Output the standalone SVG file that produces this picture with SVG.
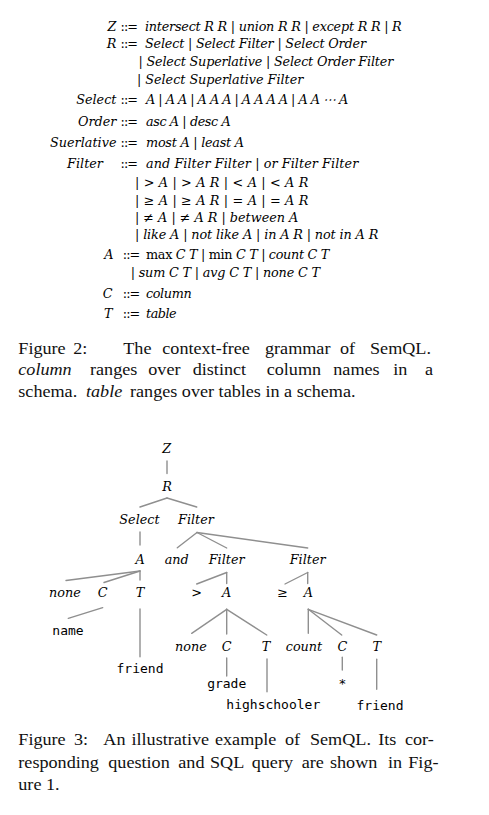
<svg xmlns="http://www.w3.org/2000/svg" width="489" height="815" viewBox="0 0 489 815">
<style>
.g{font-family:"DejaVu Serif",serif;font-style:italic;font-size:12.8px;fill:#000}
.l{text-anchor:end}
.u{font-style:normal}
.op{font-family:"DejaVu Serif",serif;font-style:normal;font-size:12.8px;fill:#000}
.n{font-family:"DejaVu Serif",serif;font-style:italic;font-size:12.8px;fill:#000;text-anchor:middle}
.m{font-family:"DejaVu Sans Mono",monospace;font-size:13px;fill:#000;text-anchor:middle}
.e{stroke:#8f8f8f;stroke-width:1.4;fill:none;stroke-linecap:round}
.cap{font-family:"Liberation Serif","Times New Roman",serif;font-size:16.5px;fill:#111}
.it{font-style:italic}
</style>
<rect width="489" height="815" fill="#fff"/>

<g id="grammar">
  <text class="g l" x="116.5" y="30.5">Z</text>
  <text class="op" x="120.5" y="30.5" textLength="17.6">::=</text>
  <text class="g" x="145" y="30.5" textLength="256.7">intersect R R | union R R | except R R | R</text>

  <text class="g l" x="116.5" y="48">R</text>
  <text class="op" x="120.5" y="48" textLength="17.6">::=</text>
  <text class="g" x="145" y="48" textLength="221">Select | Select Filter | Select Order</text>
  <text class="g" x="138.5" y="66" textLength="254.8">| Select Superlative | Select Order Filter</text>
  <text class="g" x="137" y="83.5" textLength="166.3">| Select Superlative Filter</text>

  <text class="g l" x="116.5" y="104">Select</text>
  <text class="op" x="120.5" y="104" textLength="17.6">::=</text>
  <text class="g" x="146" y="104" textLength="202.3">A | A A | A A A | A A A A | A A ⋯ A</text>

  <text class="g l" x="116.5" y="126">Order</text>
  <text class="op" x="120.5" y="126" textLength="17.6">::=</text>
  <text class="g" x="146" y="126" textLength="84.7">asc A | desc A</text>

  <text class="g l" x="116.5" y="147">Suerlative</text>
  <text class="op" x="120.5" y="147" textLength="17.6">::=</text>
  <text class="g" x="146" y="147" textLength="98">most A | least A</text>

  <text class="g l" x="103" y="168">Filter</text>
  <text class="op" x="120.5" y="168" textLength="17.6">::=</text>
  <text class="g" x="146" y="168" textLength="212.3">and Filter Filter | or Filter Filter</text>
  <text class="g" x="135" y="186.5" textLength="173.3">| &gt; A  | &gt; A R  | &lt; A  | &lt; A R</text>
  <text class="g" x="135" y="204.5" textLength="173.3">| ≥ A  | ≥ A R  | = A  | = A R</text>
  <text class="g" x="135" y="221.5" textLength="163.3">| ≠ A  | ≠ A R  | between A</text>
  <text class="g" x="135" y="239" textLength="243.3">| like A  | not like A | in A R | not in A R</text>

  <text class="g l" x="113.5" y="259">A</text>
  <text class="op" x="122.7" y="259" textLength="17.6">::=</text>
  <text class="g" x="146" y="259" textLength="183.3"><tspan class="u">max</tspan> C T | <tspan class="u">min</tspan> C T | count C T</text>
  <text class="g" x="130.7" y="277" textLength="189.3">| sum C T | avg C T | none C T</text>

  <text class="g l" x="112.5" y="297.5">C</text>
  <text class="op" x="122.7" y="297.5" textLength="17.6">::=</text>
  <text class="g" x="146" y="297.5" textLength="45.7">column</text>

  <text class="g l" x="112.5" y="317.5">T</text>
  <text class="op" x="122.7" y="317.5" textLength="17.6">::=</text>
  <text class="g" x="146" y="317.5" textLength="30.7">table</text>
</g>

<g id="caption2" class="cap" transform="scale(1.1,1)">
  <text y="354"><tspan x="16.64">Figure</tspan><tspan x="66.64">2:</tspan><tspan x="112.09">The</tspan><tspan x="147.55">context-free</tspan><tspan x="240.91">grammar</tspan><tspan x="309.09">of</tspan><tspan x="336.36">SemQL.</tspan></text>
  <text y="375.3"><tspan x="16.64" class="it">column</tspan><tspan x="81.82">ranges</tspan><tspan x="134.82">over</tspan><tspan x="175.18">distinct</tspan><tspan x="242.45">column</tspan><tspan x="303">names</tspan><tspan x="357.55">in</tspan><tspan x="386.36">a</tspan></text>
  <text y="396.7"><tspan x="16.64">schema.</tspan><tspan x="78.18" class="it">table</tspan><tspan x="118.18">ranges over tables in a schema.</tspan></text>
</g>

<g id="connectors">
  <line class="e" x1="167" y1="461" x2="167" y2="473.5"/>
  <line class="e" x1="167" y1="498" x2="140" y2="507"/>
  <line class="e" x1="167" y1="498" x2="196.7" y2="507"/>
  <line class="e" x1="140" y1="532" x2="140" y2="545"/>
  <line class="e" x1="197" y1="532.5" x2="177.3" y2="547.7"/>
  <line class="e" x1="197" y1="532.5" x2="226.7" y2="548"/>
  <line class="e" x1="197" y1="532.5" x2="307.7" y2="548"/>
  <line class="e" x1="140" y1="571" x2="66" y2="580.5"/>
  <line class="e" x1="140" y1="571" x2="104" y2="582.5"/>
  <line class="e" x1="140" y1="571" x2="140" y2="580"/>
  <line class="e" x1="226.7" y1="572.5" x2="196.7" y2="584"/>
  <line class="e" x1="226.7" y1="572.5" x2="226.7" y2="583.5"/>
  <line class="e" x1="307.7" y1="572.5" x2="285" y2="584"/>
  <line class="e" x1="307.7" y1="572.5" x2="307.7" y2="583.5"/>
  <line class="e" x1="102.7" y1="607.7" x2="68.3" y2="618.3"/>
  <line class="e" x1="140" y1="609" x2="140" y2="656.7"/>
  <line class="e" x1="226.7" y1="609.3" x2="191.7" y2="633.3"/>
  <line class="e" x1="226.7" y1="609.3" x2="226.7" y2="634"/>
  <line class="e" x1="226.7" y1="609.3" x2="266.7" y2="635"/>
  <line class="e" x1="308.3" y1="609.3" x2="308.3" y2="633.3"/>
  <line class="e" x1="308.3" y1="609.3" x2="341.7" y2="635"/>
  <line class="e" x1="308.3" y1="609.3" x2="376.7" y2="635"/>
  <line class="e" x1="226.7" y1="658" x2="226.7" y2="676"/>
  <line class="e" x1="267" y1="659" x2="267" y2="691.7"/>
  <line class="e" x1="342.3" y1="657.3" x2="342.3" y2="670"/>
  <line class="e" x1="376.7" y1="659.3" x2="376.7" y2="689.3"/>
</g>

<g id="n-Z"><text class="n" x="166.7" y="452.5">Z</text></g>
<g id="n-R"><text class="n" x="167" y="490.5">R</text></g>
<g id="n-Select"><text class="n" x="139.5" y="523.5">Select</text></g>
<g id="n-Filter1"><text class="n" x="196" y="523.5">Filter</text></g>
<g id="n-A1"><text class="n" x="140" y="563.5">A</text></g>
<g id="n-and"><text class="n" x="176.7" y="563.5">and</text></g>
<g id="n-Filter2"><text class="n" x="226.7" y="563.5">Filter</text></g>
<g id="n-Filter3"><text class="n" x="307.7" y="563.5">Filter</text></g>
<g id="n-none1"><text class="n" x="65" y="596.5">none</text></g>
<g id="n-C1"><text class="n" x="102.7" y="597">C</text></g>
<g id="n-T1"><text class="n" x="140" y="597">T</text></g>
<g id="n-gt"><text class="n u" x="196.7" y="597">&gt;</text></g>
<g id="n-A2"><text class="n" x="226.7" y="597">A</text></g>
<g id="n-ge"><text class="n u" x="282.7" y="597">≥</text></g>
<g id="n-A3"><text class="n" x="308.3" y="597">A</text></g>
<g id="n-name"><text class="m" x="68" y="635">name</text></g>
<g id="n-friend1"><text class="m" x="140" y="672.7">friend</text></g>
<g id="n-none2"><text class="n" x="191" y="651">none</text></g>
<g id="n-C2"><text class="n" x="226.7" y="651">C</text></g>
<g id="n-T2"><text class="n" x="266" y="651">T</text></g>
<g id="n-count"><text class="n" x="304" y="651">count</text></g>
<g id="n-C3"><text class="n" x="342.3" y="651">C</text></g>
<g id="n-T3"><text class="n" x="376.7" y="651">T</text></g>
<g id="n-grade"><text class="m" x="226.7" y="688.3">grade</text></g>
<g id="n-highschooler"><text class="m" x="273.3" y="709.3">highschooler</text></g>
<g id="n-star"><text class="m" x="342.3" y="688">*</text></g>
<g id="n-friend2"><text class="m" x="380" y="710">friend</text></g>

<g id="caption3" class="cap" transform="scale(1.1,1)">
  <text y="745"><tspan x="16.64">Figure</tspan><tspan x="67.27">3:</tspan><tspan x="93.91">An</tspan><tspan x="119.55">illustrative</tspan><tspan x="195.45">example</tspan><tspan x="259.09">of</tspan><tspan x="281.82">SemQL.</tspan><tspan x="343.91">Its</tspan><tspan x="368.18">cor-</tspan></text>
  <text y="767.7"><tspan x="16.64">responding</tspan><tspan x="98.45">question</tspan><tspan x="162.09">and</tspan><tspan x="190.91">SQL</tspan><tspan x="228.82">query</tspan><tspan x="274.27">are</tspan><tspan x="300">shown</tspan><tspan x="352.73">in</tspan><tspan x="371.18">Fig-</tspan></text>
  <text y="790.5"><tspan x="16.64">ure 1.</tspan></text>
</g>
</svg>
